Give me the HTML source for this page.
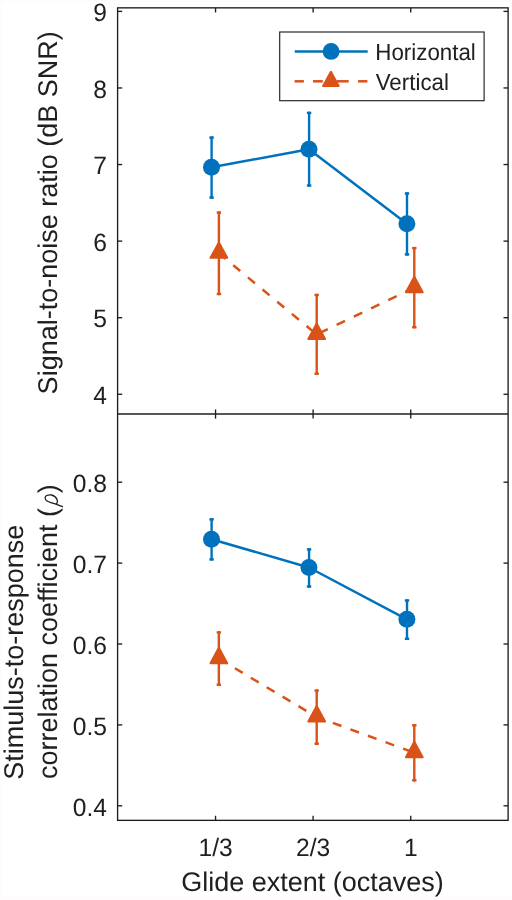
<!DOCTYPE html>
<html><head><meta charset="utf-8"><title>Figure</title>
<style>html,body{margin:0;padding:0;background:#fff}svg{display:block;will-change:transform}text{text-rendering:geometricPrecision;font-family:"Liberation Sans",sans-serif;fill:#202020}</style>
</head><body>
<svg width="512" height="900" viewBox="0 0 512 900">
<rect x="0" y="0" width="512" height="900" fill="#ffffff"/>
<rect x="0" y="0" width="2" height="900" fill="#fefdfd"/><rect x="0" y="897" width="512" height="3" fill="#fefcfc"/><rect x="0" y="0" width="512" height="1.5" fill="#fefcfc"/>
<g stroke="#1e1e1e" stroke-width="1.35" fill="none" stroke-linecap="butt">
<rect x="117.60" y="7.85" width="390.50" height="812.50"/>
<line x1="117.60" y1="414.00" x2="508.10" y2="414.00"/>
<line x1="215.55" y1="7.85" x2="215.55" y2="12.45"/>
<line x1="215.55" y1="409.40" x2="215.55" y2="418.60"/>
<line x1="215.55" y1="815.75" x2="215.55" y2="820.35"/>
<line x1="313.10" y1="7.85" x2="313.10" y2="12.45"/>
<line x1="313.10" y1="409.40" x2="313.10" y2="418.60"/>
<line x1="313.10" y1="815.75" x2="313.10" y2="820.35"/>
<line x1="410.75" y1="7.85" x2="410.75" y2="12.45"/>
<line x1="410.75" y1="409.40" x2="410.75" y2="418.60"/>
<line x1="410.75" y1="815.75" x2="410.75" y2="820.35"/>
<line x1="117.60" y1="11.38" x2="122.20" y2="11.38"/>
<line x1="503.50" y1="11.38" x2="508.10" y2="11.38"/>
<line x1="117.60" y1="87.96" x2="122.20" y2="87.96"/>
<line x1="503.50" y1="87.96" x2="508.10" y2="87.96"/>
<line x1="117.60" y1="164.54" x2="122.20" y2="164.54"/>
<line x1="503.50" y1="164.54" x2="508.10" y2="164.54"/>
<line x1="117.60" y1="241.12" x2="122.20" y2="241.12"/>
<line x1="503.50" y1="241.12" x2="508.10" y2="241.12"/>
<line x1="117.60" y1="317.70" x2="122.20" y2="317.70"/>
<line x1="503.50" y1="317.70" x2="508.10" y2="317.70"/>
<line x1="117.60" y1="394.28" x2="122.20" y2="394.28"/>
<line x1="503.50" y1="394.28" x2="508.10" y2="394.28"/>
<line x1="117.60" y1="482.20" x2="122.20" y2="482.20"/>
<line x1="503.50" y1="482.20" x2="508.10" y2="482.20"/>
<line x1="117.60" y1="563.10" x2="122.20" y2="563.10"/>
<line x1="503.50" y1="563.10" x2="508.10" y2="563.10"/>
<line x1="117.60" y1="644.00" x2="122.20" y2="644.00"/>
<line x1="503.50" y1="644.00" x2="508.10" y2="644.00"/>
<line x1="117.60" y1="724.90" x2="122.20" y2="724.90"/>
<line x1="503.50" y1="724.90" x2="508.10" y2="724.90"/>
<line x1="117.60" y1="805.80" x2="122.20" y2="805.80"/>
<line x1="503.50" y1="805.80" x2="508.10" y2="805.80"/>
</g>
<g font-size="25.1px">
<text transform="translate(107.0,21.08) scale(0.98,1)" text-anchor="end">9</text>
<text transform="translate(107.0,97.66) scale(0.98,1)" text-anchor="end">8</text>
<text transform="translate(107.0,174.24) scale(0.98,1)" text-anchor="end">7</text>
<text transform="translate(107.0,250.82) scale(0.98,1)" text-anchor="end">6</text>
<text transform="translate(107.0,327.40) scale(0.98,1)" text-anchor="end">5</text>
<text transform="translate(107.0,403.98) scale(0.98,1)" text-anchor="end">4</text>
<text transform="translate(107.0,491.90) scale(0.98,1)" text-anchor="end">0.8</text>
<text transform="translate(107.0,572.80) scale(0.98,1)" text-anchor="end">0.7</text>
<text transform="translate(107.0,653.70) scale(0.98,1)" text-anchor="end">0.6</text>
<text transform="translate(107.0,734.60) scale(0.98,1)" text-anchor="end">0.5</text>
<text transform="translate(107.0,815.50) scale(0.98,1)" text-anchor="end">0.4</text>
<text transform="translate(215.65,855.6) scale(0.98,1)" text-anchor="middle">1/3</text>
<text transform="translate(313.20,855.6) scale(0.98,1)" text-anchor="middle">2/3</text>
<text transform="translate(410.85,855.6) scale(0.98,1)" text-anchor="middle">1</text>
</g>
<g font-size="27px">
<text x="312.5" y="890.7" text-anchor="middle">Glide extent (octaves)</text>
<text transform="translate(57.2,212.8) rotate(-90)" text-anchor="middle">Signal-to-noise ratio (dB SNR)</text>
<text transform="translate(23.0,779.8) rotate(-90)">Stimulus-to-response</text>
<text transform="translate(57.4,779.1) rotate(-90)">correlation coefficient (</text>
<text transform="translate(57.4,493.3) rotate(-90)">)</text>
</g>
<path d="M62.5,506.7 L55.8,504.1 C52,502.9 48.4,501.9 46.4,500.4 C44.4,498.6 44.9,496.3 46.7,495.5 C48.5,494.7 50,494.6 51.6,495.0 C54.2,495.7 56.2,497.3 57.1,499.7 C57.9,501.8 57.2,503.6 55.8,504.1" fill="none" stroke="#202020" stroke-width="1.3" stroke-linecap="round" stroke-linejoin="round"/>
<line x1="211.60" y1="136.40" x2="211.60" y2="198.75" stroke="#0072BD" stroke-width="2.40"/><rect x="209.40" y="136.40" width="4.40" height="2.40" fill="#0072BD"/><rect x="209.40" y="196.35" width="4.40" height="2.40" fill="#0072BD"/>
<line x1="309.10" y1="111.70" x2="309.10" y2="186.70" stroke="#0072BD" stroke-width="2.40"/><rect x="306.90" y="111.70" width="4.40" height="2.40" fill="#0072BD"/><rect x="306.90" y="184.30" width="4.40" height="2.40" fill="#0072BD"/>
<line x1="407.00" y1="192.30" x2="407.00" y2="255.60" stroke="#0072BD" stroke-width="2.40"/><rect x="404.80" y="192.30" width="4.40" height="2.40" fill="#0072BD"/><rect x="404.80" y="253.20" width="4.40" height="2.40" fill="#0072BD"/>
<line x1="218.90" y1="211.40" x2="218.90" y2="295.20" stroke="#D95319" stroke-width="2.40"/><rect x="216.70" y="211.40" width="4.40" height="2.40" fill="#D95319"/><rect x="216.70" y="292.80" width="4.40" height="2.40" fill="#D95319"/>
<line x1="316.70" y1="293.80" x2="316.70" y2="374.90" stroke="#D95319" stroke-width="2.40"/><rect x="314.50" y="293.80" width="4.40" height="2.40" fill="#D95319"/><rect x="314.50" y="372.50" width="4.40" height="2.40" fill="#D95319"/>
<line x1="414.30" y1="246.90" x2="414.30" y2="328.40" stroke="#D95319" stroke-width="2.40"/><rect x="412.10" y="246.90" width="4.40" height="2.40" fill="#D95319"/><rect x="412.10" y="326.00" width="4.40" height="2.40" fill="#D95319"/>
<polyline points="211.50,167.30 309.00,149.20 406.90,223.80" fill="none" stroke="#0072BD" stroke-width="2.5" stroke-linejoin="round"/>
<line x1="218.90" y1="253.30" x2="316.70" y2="334.50" stroke="#D95319" stroke-width="2.5" stroke-dasharray="9.1 9.95" stroke-dashoffset="0.40"/>
<line x1="316.70" y1="334.50" x2="414.30" y2="287.70" stroke="#D95319" stroke-width="2.5" stroke-dasharray="9.3 9.8" stroke-dashoffset="16.10"/>
<circle cx="211.50" cy="167.30" r="8.5" fill="#0072BD"/>
<circle cx="309.00" cy="149.20" r="8.5" fill="#0072BD"/>
<circle cx="406.90" cy="223.80" r="8.5" fill="#0072BD"/>
<polygon points="218.90,242.40 210.50,257.80 227.30,257.80" fill="#D95319" stroke="#D95319" stroke-width="2" stroke-linejoin="round"/>
<polygon points="316.70,323.60 308.30,339.00 325.10,339.00" fill="#D95319" stroke="#D95319" stroke-width="2" stroke-linejoin="round"/>
<polygon points="414.30,276.80 405.90,292.20 422.70,292.20" fill="#D95319" stroke="#D95319" stroke-width="2" stroke-linejoin="round"/>
<line x1="211.60" y1="518.20" x2="211.60" y2="560.60" stroke="#0072BD" stroke-width="2.40"/><rect x="209.40" y="518.20" width="4.40" height="2.40" fill="#0072BD"/><rect x="209.40" y="558.20" width="4.40" height="2.40" fill="#0072BD"/>
<line x1="309.05" y1="548.20" x2="309.05" y2="587.70" stroke="#0072BD" stroke-width="2.40"/><rect x="306.85" y="548.20" width="4.40" height="2.40" fill="#0072BD"/><rect x="306.85" y="585.30" width="4.40" height="2.40" fill="#0072BD"/>
<line x1="407.00" y1="599.30" x2="407.00" y2="640.00" stroke="#0072BD" stroke-width="2.40"/><rect x="404.80" y="599.30" width="4.40" height="2.40" fill="#0072BD"/><rect x="404.80" y="637.60" width="4.40" height="2.40" fill="#0072BD"/>
<line x1="218.85" y1="631.20" x2="218.85" y2="685.90" stroke="#D95319" stroke-width="2.40"/><rect x="216.65" y="631.20" width="4.40" height="2.40" fill="#D95319"/><rect x="216.65" y="683.50" width="4.40" height="2.40" fill="#D95319"/>
<line x1="316.70" y1="689.40" x2="316.70" y2="744.90" stroke="#D95319" stroke-width="2.40"/><rect x="314.50" y="689.40" width="4.40" height="2.40" fill="#D95319"/><rect x="314.50" y="742.50" width="4.40" height="2.40" fill="#D95319"/>
<line x1="414.30" y1="724.10" x2="414.30" y2="781.50" stroke="#D95319" stroke-width="2.40"/><rect x="412.10" y="724.10" width="4.40" height="2.40" fill="#D95319"/><rect x="412.10" y="779.10" width="4.40" height="2.40" fill="#D95319"/>
<polyline points="211.50,539.20 308.95,567.50 406.90,619.30" fill="none" stroke="#0072BD" stroke-width="2.5" stroke-linejoin="round"/>
<line x1="218.85" y1="658.70" x2="316.70" y2="717.00" stroke="#D95319" stroke-width="2.5" stroke-dasharray="9.1 9.4" stroke-dashoffset="18.30"/>
<line x1="316.70" y1="717.00" x2="414.30" y2="752.70" stroke="#D95319" stroke-width="2.5" stroke-dasharray="9.1 9.6" stroke-dashoffset="1.50"/>
<circle cx="211.50" cy="539.20" r="8.5" fill="#0072BD"/>
<circle cx="308.95" cy="567.50" r="8.5" fill="#0072BD"/>
<circle cx="406.90" cy="619.30" r="8.5" fill="#0072BD"/>
<polygon points="218.85,647.80 210.45,663.20 227.25,663.20" fill="#D95319" stroke="#D95319" stroke-width="2" stroke-linejoin="round"/>
<polygon points="316.70,706.10 308.30,721.50 325.10,721.50" fill="#D95319" stroke="#D95319" stroke-width="2" stroke-linejoin="round"/>
<polygon points="414.30,741.80 405.90,757.20 422.70,757.20" fill="#D95319" stroke="#D95319" stroke-width="2" stroke-linejoin="round"/>
<rect x="279.7" y="32.0" width="204.4" height="68.7" fill="#fff" stroke="#202020" stroke-width="1.15"/>
<line x1="294.7" y1="51.5" x2="367.7" y2="51.5" stroke="#0072BD" stroke-width="2.5"/>
<circle cx="331.1" cy="51.45" r="8.4" fill="#0072BD"/>
<line x1="294.60" y1="81.3" x2="303.90" y2="81.3" stroke="#D95319" stroke-width="2.5"/>
<line x1="313.00" y1="81.3" x2="322.80" y2="81.3" stroke="#D95319" stroke-width="2.5"/>
<line x1="337.00" y1="81.3" x2="348.70" y2="81.3" stroke="#D95319" stroke-width="2.5"/>
<line x1="358.10" y1="81.3" x2="367.40" y2="81.3" stroke="#D95319" stroke-width="2.5"/>
<polygon points="330.90,71.76 323.09,86.09 338.71,86.09" fill="#D95319" stroke="#D95319" stroke-width="2" stroke-linejoin="round"/>
<g font-size="23.2px"><text transform="translate(375.3,60.3) scale(0.963,1)">Horizontal</text><text transform="translate(375.7,90.2) scale(0.963,1)">Vertical</text></g>
</svg></body></html>
